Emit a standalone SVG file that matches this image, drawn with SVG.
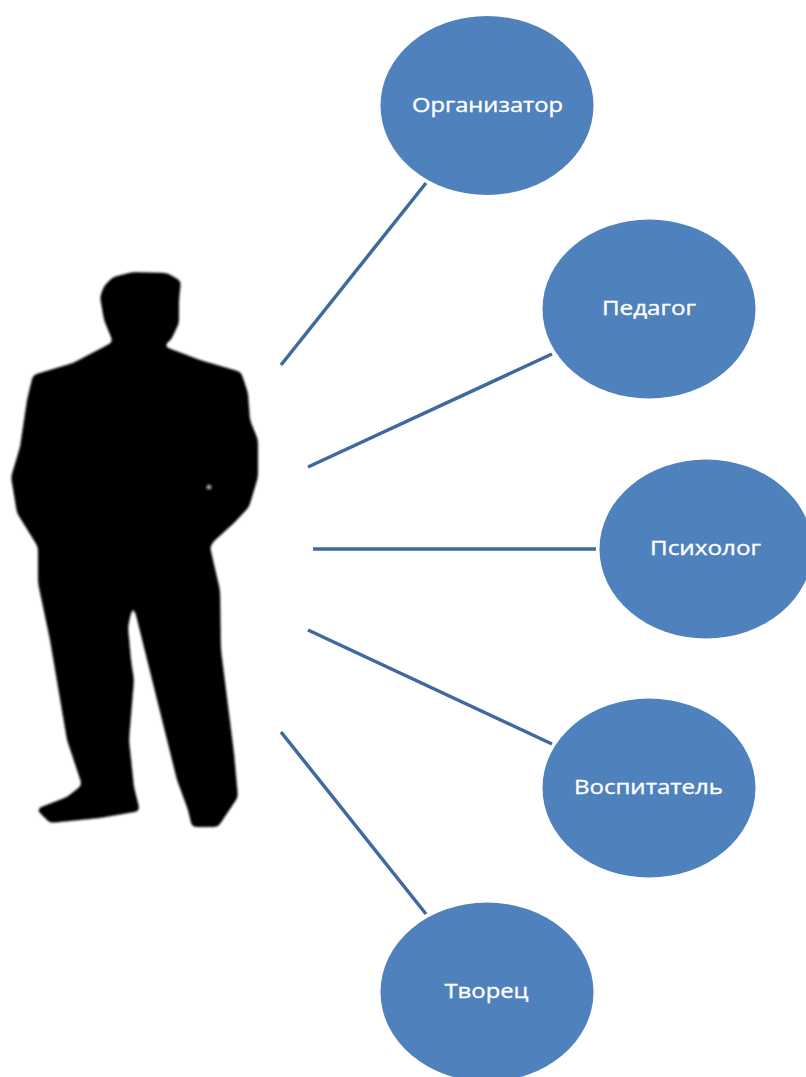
<svg xmlns="http://www.w3.org/2000/svg" width="806" height="1077" viewBox="0 0 806 1077">
<style>
.n{fill:#4f81bd}
.t{fill:#fff;stroke:#fff;stroke-width:.35;font-family:"Open Sans","Noto Sans",sans-serif;font-size:20px;text-anchor:middle}
.c{stroke:#3e6a9f;stroke-width:3.5;fill:none}
</style>
<defs><filter id="b" x="-5%" y="-5%" width="110%" height="110%"><feGaussianBlur stdDeviation="2.6"/><feComponentTransfer><feFuncA type="linear" slope="5" intercept="-2"/></feComponentTransfer><feGaussianBlur stdDeviation="0.9"/></filter>
<filter id="s" x="-100%" y="-100%" width="300%" height="300%"><feGaussianBlur stdDeviation="1.2"/></filter></defs>
<rect width="806" height="1077" fill="#fff"/>
<g id="person"><path filter="url(#b)" fill="#000" d="M100 297L104 286L113 277L133 272L167 273L181 281L179 300L179 323L171 340L163 346L200 360L241 372L248 393L250 420L258 440L258 477L249 507L234 523L213 542L210 547L220 590L221 650L234 753L238 797L218 827L192 827L188 810L177 780L133 603L128 627L131 660L134 680L129 740L134 787L140 811L100 818L50 823L36 809L67 797L82 785L67 740L50 640L38 583L38 547L17 513L11 477L20 447L27 400L33 375L73 363L113 342L104 320Z"/><circle cx="209" cy="487" r="2.600" fill="#999" filter="url(#s)"/></g>
<g id="connectors">
<line class="c" x1="281" y1="365" x2="426" y2="183"/>
<line class="c" x1="308" y1="467" x2="552" y2="354"/>
<line class="c" x1="313" y1="549" x2="596" y2="549"/>
<line class="c" x1="308" y1="630" x2="552" y2="744"/>
<line class="c" x1="281" y1="732" x2="426" y2="914"/>
</g>
<g id="n1"><ellipse class="n" cx="487" cy="105.500" rx="106.500" ry="89.500"/><text class="t" x="487.500" y="112" textLength="151" lengthAdjust="spacingAndGlyphs">Организатор</text></g>
<g id="n2"><ellipse class="n" cx="649" cy="309" rx="106.500" ry="89.500"/><text class="t" x="649" y="315" textLength="94" lengthAdjust="spacingAndGlyphs">Педагог</text></g>
<g id="n3"><ellipse class="n" cx="706" cy="549" rx="106.500" ry="89.500"/><text class="t" x="705.500" y="555" textLength="111" lengthAdjust="spacingAndGlyphs">Психолог</text></g>
<g id="n4"><ellipse class="n" cx="649" cy="788" rx="106.500" ry="89.500"/><text class="t" x="648.500" y="794" textLength="149" lengthAdjust="spacingAndGlyphs">Воспитатель</text></g>
<g id="n5"><ellipse class="n" cx="487" cy="992" rx="106.500" ry="89.500"/><text class="t" x="486.500" y="998" textLength="84" lengthAdjust="spacingAndGlyphs">Творец</text></g>
</svg>
